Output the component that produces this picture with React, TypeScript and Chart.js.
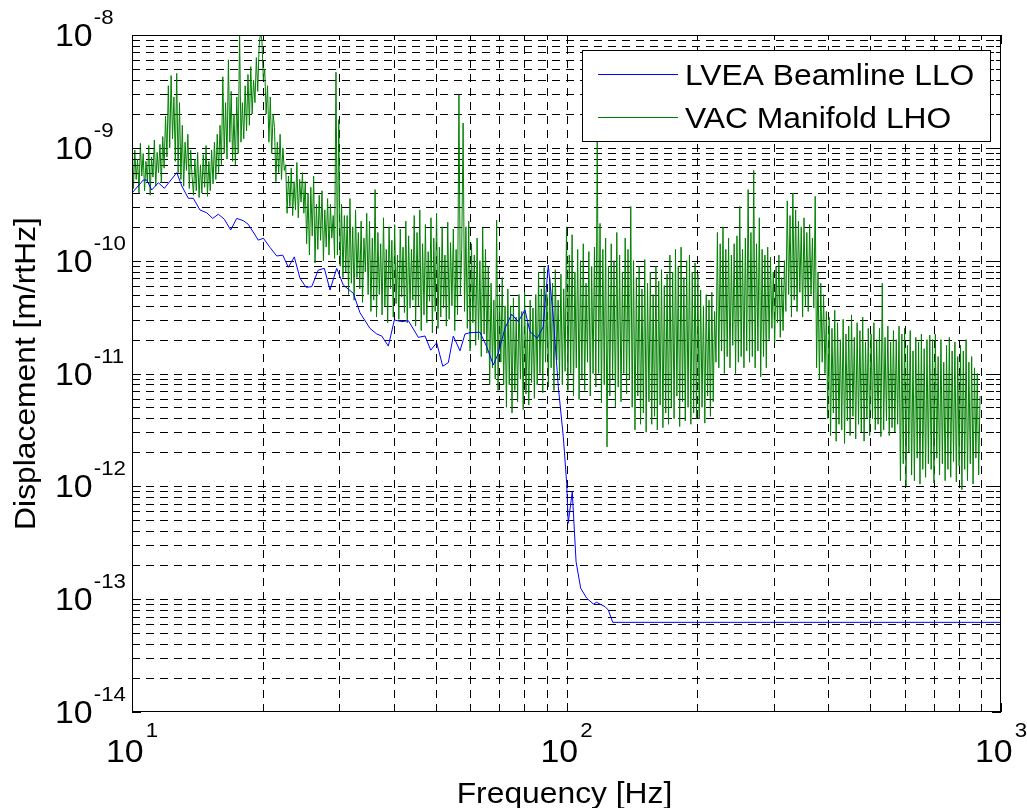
import React, { useEffect, useRef } from "react";
import { Chart, registerables } from "chart.js";

Chart.register(...registerables);

const FONT = '"Liberation Sans", Arial, Helvetica, sans-serif';
const TEXT_STRETCH = 1.06;

// LVEA Beamline LLO spectrum: frequency [Hz] and displacement [m/rtHz]
const beamlineFreq = [
  10.0, 10.62, 10.81, 11.1, 11.5, 11.87, 12.68, 13.02, 13.48, 13.84, 14.34, 14.85, 15.34, 15.8,
  16.31, 16.87, 17.42, 18.04, 18.52, 19.53, 20.06, 20.78, 21.53, 22.23, 22.9, 23.63, 24.36,
  25.15, 25.92, 26.84, 27.71, 28.56, 29.59, 30.64, 32.31, 33.47, 35.29, 36.58, 37.56, 38.9,
  40.16, 41.77, 43.25, 45.6, 47.25, 48.7, 50.27, 51.9, 53.46, 54.89, 56.87, 58.4, 59.97, 63.23,
  65.51, 67.85, 69.66, 72.17, 74.78, 77.44, 80.24, 82.39, 85.64, 88.41, 90.78, 93.22, 95.74,
  98.31, 100.1, 100.9, 103.1, 105.2, 107.8, 111.3, 115.3, 117.3, 122.7, 124.8, 127.8, 1000,
];
const beamlineDisp = [
  3.98e-10, 5.19e-10, 5.19e-10, 4.23e-10, 4.91e-10, 4.38e-10, 6.03e-10, 4.59e-10, 3.57e-10,
  3.57e-10, 2.81e-10, 2.66e-10, 2.37e-10, 2.58e-10, 2.33e-10, 1.87e-10, 2.37e-10, 2.26e-10,
  2.1e-10, 1.52e-10, 1.58e-10, 1.31e-10, 1.1e-10, 1.12e-10, 8.73e-11, 1.08e-10, 6.98e-11,
  5.81e-11, 5.88e-11, 8.26e-11, 8.55e-11, 5.5e-11, 8.55e-11, 6.08e-11, 5.14e-11, 3.46e-11,
  2.51e-11, 2.24e-11, 2.15e-11, 1.75e-11, 2.98e-11, 2.88e-11, 2.94e-11, 2.09e-11, 2.15e-11,
  1.61e-11, 1.87e-11, 1.16e-11, 1.25e-11, 2.15e-11, 1.59e-11, 2.24e-11, 2.3e-11, 2.32e-11,
  1.73e-11, 1.19e-11, 1.51e-11, 2.52e-11, 3.35e-11, 2.88e-11, 3.66e-11, 2.35e-11, 2.05e-11,
  2.6e-11, 9.16e-11, 3.19e-11, 7.64e-12, 2.75e-12, 1.06e-12, 4.7e-13, 8.95e-13, 2.15e-13,
  1.25e-13, 1.02e-13, 9.06e-14, 9.38e-14, 8.57e-14, 8.01e-14, 6.23e-14, 6.23e-14,
];

// VAC Manifold LHO spectrum: log10 of displacement [m/rtHz] on log-spaced bins
const manifoldStartHz = 10;
const manifoldEndHz = 895;
const manifoldLog10 = [
  // 10 - 13 Hz
  -8.87, -9.36, -9.02, -9.28, -9.1, -9.4, -8.96, -9.25, -9.05, -9.38, -9.12, -9.3, -8.98, -9.42,
  -9.08, -9.26, -8.93, -9.34, -9.04, -9.22, -8.97, -9.31,
  -8.9, -9.18, -8.72, -9.08, -8.45, -9.0, -8.36, -8.92, -8.55, -9.12, -8.34, -9.22,
  -8.6, -9.28, -8.8, -9.34, -8.95, -9.2, -8.88, -9.36, -9.02, -9.25,
  // 14 - 20 Hz
  -9.42, -9.1, -9.38, -9.04, -9.44, -9.15, -9.4, -9.06, -9.35, -8.98, -9.43, -9.12, -9.38, -9.02,
  -9.32, -8.95, -9.28, -8.88, -9.22, -8.8, -9.15, -8.37, -9.05, -8.6, -9.1, -8.22, -8.95, -8.5,
  -9.12, -8.7, -9.15, -8.55, -9.05, -7.98, -8.95, -8.6, -8.92, -8.45, -8.85, -8.35, -8.8, -8.28,
  -8.7, -8.4, -8.6, -8.2, -8.5, -8.1,
  // 20 - 30 Hz
  -7.97, -8.05, -8.4, -8.3, -8.7, -8.45, -8.95, -8.55, -9.05, -8.7,
  -8.82, -9.3, -8.95, -9.22, -8.88, -9.28, -9.0, -9.2,
  -9.15, -9.58, -9.25, -9.52, -9.18, -9.6, -9.3, -9.55, -9.13, -9.62, -9.28, -9.48, -9.22, -9.58,
  -9.3, -9.85, -9.4, -9.95, -9.35, -9.78, -9.25, -10.02, -9.5, -9.9, -9.42, -9.82, -9.38, -10.0,
  -9.55, -9.88, -9.45, -9.95, -9.5, -9.8, -9.6, -9.98,
  -8.33, -9.95, -8.75, -10.05, -9.5, -10.15, -9.6, -10.1,
  // 30 - 60 Hz
  -9.6, -10.3, -9.45, -10.2, -9.7, -10.35, -9.55, -10.15, -9.75, -10.25, -9.65, -10.37, -9.8,
  -10.1, -9.58, -10.3,
  -9.65, -10.45, -9.8, -10.35, -9.37, -10.5, -9.75, -10.3, -9.85, -10.48, -9.62, -10.4, -9.9,
  -10.55, -9.7, -10.25, -9.82, -10.5, -9.68, -10.38, -9.95, -10.52, -9.72, -10.32, -9.88, -10.46,
  -9.65, -10.55, -9.78, -10.42, -9.9, -10.35,
  -9.6, -10.58, -9.75, -10.4, -9.55, -10.62, -9.85, -10.48, -9.68, -10.55, -9.92, -10.36, -9.62,
  -10.64, -9.8, -10.45, -9.58, -10.6, -9.88, -10.5, -9.7, -10.42, -9.95, -10.58, -9.66, -10.52,
  -9.84, -10.4, -9.72, -10.62, -9.9, -10.48,
  -8.53, -10.3, -9.9, -8.78, -10.45, -9.7,
  // 60 - 100 Hz
  -10.6, -9.65, -10.8, -9.85, -10.55, -9.95, -10.75, -9.8, -10.7, -10.0, -10.85, -9.71, -10.65,
  -9.9, -10.82, -10.05,
  -11.1, -10.2, -10.95, -10.35, -11.05, -9.64, -11.15, -10.3, -10.9, -10.15, -11.1, -10.4,
  -11.3, -10.25, -11.1, -10.4, -11.35, -10.33, -11.15, -10.5, -11.25, -10.3, -11.05, -10.45,
  -11.32, -10.28, -11.18, -10.55, -11.28, -10.35, -11.08, -10.42, -11.22, -10.3,
  -11.1, -10.1, -11.0, -10.25, -11.17, -10.06, -10.9, -10.3, -11.12, -10.15, -10.95, -10.2,
  -11.15, -10.08, -10.88, -10.35, -11.05, -10.12, -11.1, -10.25, -10.98, -9.7,
  // 100 - 200 Hz
  -11.15, -9.95, -11.0, -9.77, -11.2, -10.1, -10.95, -9.9, -11.23, -10.0, -11.05, -9.85, -11.15,
  -10.2, -10.9, -9.92, -11.2, -10.05, -11.0, -9.88, -11.12, -8.9,
  -11.0, -9.67, -11.26, -9.9, -11.1, -9.8, -11.65, -10.05, -11.2, -9.85, -11.05, -10.0, -11.3,
  -9.75, -11.12, -9.95, -11.25, -10.1, -11.0, -9.8, -11.18, -9.9, -11.05, -9.52,
  -11.3, -10.0, -11.5, -10.15, -11.2, -10.05, -11.45, -10.25, -11.35, -9.99, -11.52, -10.2,
  -11.25, -10.1, -11.45, -10.3, -11.38, -10.05, -11.5, -10.18, -11.28, -10.08, -11.48, -10.22,
  -11.35, -10.12,
  -11.45, -9.95, -11.3, -10.1, -11.4, -9.9, -11.2, -10.05, -11.47, -9.88, -11.25, -10.15,
  -11.42, -10.0, -11.3, -9.95, -11.45, -10.1, -11.35, -10.02, -11.4, -10.12,
  // 200 - 400 Hz
  -11.4, -10.26, -11.3, -10.4, -11.44, -10.3, -11.2, -10.35, -11.38, -10.28, -11.25, -10.45,
  -10.9, -9.75, -10.95, -9.85, -10.8, -9.7, -11.0, -9.9, -10.85, -9.8, -10.95, -9.95, -10.75,
  -9.85, -11.0, -9.78, -10.9, -9.52, -10.85, -9.9, -10.95, -9.8, -10.8, -9.37, -10.9, -9.75,
  -10.85, -9.2, -10.95, -9.85, -10.8, -9.62, -11.03, -9.9, -10.85, -9.95, -10.95, -9.88,
  -10.7, -9.97, -10.6, -10.1, -10.73, -10.05, -10.55, -9.95, -10.68, -10.15, -10.62, -10.0,
  -10.45, -9.47, -10.3, -9.6, -10.5, -9.4, -10.35, -9.55, -10.45, -9.65, -10.28, -9.7, -10.5,
  -9.62, -10.4, -9.75, -10.45, -9.68, -10.3, -9.8, -10.42, -9.43,
  // 400 - 900 Hz
  -10.95, -10.1, -11.05, -10.2, -10.9, -10.3, -11.0, -10.45,
  -11.4, -10.5, -11.55, -10.6, -11.35, -10.44, -11.6, -10.55, -11.45, -10.7, -11.5, -10.52,
  -11.62, -10.65, -11.42, -10.58, -11.55, -10.48, -11.38, -10.68, -11.58, -10.55, -11.45,
  -10.62, -11.52, -10.5, -11.6, -10.72, -11.4, -10.6,
  -11.55, -10.65, -11.4, -10.55, -11.5, -10.7, -11.45, -10.6, -11.56, -10.2, -11.5, -10.68,
  -11.42, -10.58, -11.55, -10.72, -11.48, -10.62, -11.52, -10.7, -11.45, -10.58,
  -11.95, -10.65, -11.8, -10.6, -12.0, -10.75, -11.7, -10.62, -11.9, -10.8, -11.95, -10.68,
  -11.75, -10.72, -11.98, -10.65, -11.85, -10.78, -11.92, -10.7, -11.8, -10.66,
  -11.85, -10.7, -11.97, -10.65, -11.75, -10.85, -11.9, -10.7, -11.8, -10.9, -11.95, -10.75,
  -11.85, -10.68, -11.92, -10.8, -11.78, -10.72, -11.96, -10.85, -11.82, -10.75,
  -12.03, -10.8, -11.85, -10.7, -11.95, -10.9, -11.8, -10.85, -11.98, -10.95, -11.75, -11.0,
  -11.9, -11.2,
];

const seriesLabels = ["LVEA Beamline LLO", "VAC Manifold LHO"];
const seriesColors = ["#0000ff", "#008000"];
const xDecadeExponents = [1, 2, 3];
const yDecadeExponents = [-8, -9, -10, -11, -12, -13, -14];
const xTitle = "Frequency [Hz]";
const yTitle = "Displacement [m/rtHz]";

// grid positions: 1..9 x 10^e inside each decade
function decadeGrid(lo: number, hi: number) {
  const out: { v: number; major: boolean }[] = [];
  for (let e = lo; e < hi; e++) {
    for (let m = 1; m <= 9; m++) out.push({ v: m * Math.pow(10, e), major: m === 1 });
  }
  out.push({ v: Math.pow(10, hi), major: true });
  return out;
}

function drawText(
  ctx: CanvasRenderingContext2D,
  s: string,
  x: number,
  y: number,
  size: number,
  align: "left" | "right" | "center"
) {
  ctx.save();
  ctx.font = `${size}px ${FONT}`;
  ctx.textBaseline = "alphabetic";
  ctx.textAlign = "left";
  const w = ctx.measureText(s).width * TEXT_STRETCH;
  let x0 = x;
  if (align === "right") x0 = x - w;
  else if (align === "center") x0 = x - w / 2;
  ctx.translate(x0, y);
  ctx.scale(TEXT_STRETCH, 1);
  ctx.fillStyle = "#000";
  ctx.fillText(s, 0, 0);
  ctx.restore();
  return w;
}

function textWidth(ctx: CanvasRenderingContext2D, s: string, size: number) {
  ctx.save();
  ctx.font = `${size}px ${FONT}`;
  const w = ctx.measureText(s).width * TEXT_STRETCH;
  ctx.restore();
  return w;
}

const xGrid = decadeGrid(1, 3);
const yGrid = decadeGrid(-14, -8);

const axesPlugin = {
  id: "matlabAxes",
  beforeDatasetsDraw(chart: any) {
    const { ctx, chartArea: a, scales } = chart;
    ctx.save();
    ctx.strokeStyle = "#000";
    ctx.lineWidth = 1;
    ctx.setLineDash([8, 6]);
    for (const g of xGrid) {
      const p = Math.round(scales.x.getPixelForValue(g.v));
      if (p <= a.left + 1 || p >= a.right - 1) continue;
      ctx.beginPath();
      ctx.moveTo(p + 0.5, a.bottom);
      ctx.lineTo(p + 0.5, a.top);
      ctx.stroke();
    }
    for (const g of yGrid) {
      const p = Math.round(scales.y.getPixelForValue(g.v));
      if (p <= a.top + 1 || p >= a.bottom - 1) continue;
      ctx.beginPath();
      ctx.moveTo(a.left, p + 0.5);
      ctx.lineTo(a.right, p + 0.5);
      ctx.stroke();
    }
    ctx.restore();
  },
  afterDatasetsDraw(chart: any) {
    const { ctx, chartArea: a, scales } = chart;
    ctx.save();
    ctx.strokeStyle = "#000";
    ctx.lineWidth = 1;
    ctx.setLineDash([]);

    // inward tick marks on all four sides
    for (const g of xGrid) {
      const p = Math.round(scales.x.getPixelForValue(g.v)) + 0.5;
      const len = g.major ? 9 : 5;
      ctx.beginPath();
      ctx.moveTo(p, a.bottom);
      ctx.lineTo(p, a.bottom - len);
      ctx.moveTo(p, a.top);
      ctx.lineTo(p, a.top + len);
      ctx.stroke();
    }
    for (const g of yGrid) {
      const p = Math.round(scales.y.getPixelForValue(g.v)) + 0.5;
      const len = g.major ? 9 : 5;
      ctx.beginPath();
      ctx.moveTo(a.left, p);
      ctx.lineTo(a.left + len, p);
      ctx.moveTo(a.right, p);
      ctx.lineTo(a.right - len, p);
      ctx.stroke();
    }

    // axes box
    ctx.strokeRect(
      Math.round(a.left) + 0.5,
      Math.round(a.top) + 0.5,
      Math.round(a.right - a.left) - 1,
      Math.round(a.bottom - a.top) - 1
    );

    // x tick labels 10^n
    for (const e of xDecadeExponents) {
      const px = scales.x.getPixelForValue(Math.pow(10, e));
      const sup = String(e);
      const w1 = textWidth(ctx, "10", 32);
      const w2 = textWidth(ctx, sup, 21);
      const start = px - (w1 + w2 + 2) / 2;
      drawText(ctx, "10", start, 762, 32, "left");
      drawText(ctx, sup, start + w1 + 2, 737, 21, "left");
    }

    // y tick labels 10^n
    for (const e of yDecadeExponents) {
      const py = scales.y.getPixelForValue(Math.pow(10, e));
      const w1 = drawText(ctx, "10", 55, py + 11, 32, "left");
      drawText(ctx, String(e), 55 + w1 + 1, py - 11, 21, "left");
    }

    // axis titles
    drawText(ctx, xTitle, (a.left + a.right) / 2 - 2, 803, 30, "center");
    ctx.save();
    ctx.translate(35, (a.top + a.bottom) / 2);
    ctx.rotate(-Math.PI / 2);
    drawText(ctx, yTitle, 0, 0, 30, "center");
    ctx.restore();

    // legend box
    const lx = 582.5;
    const ly = 50.5;
    ctx.fillStyle = "#fff";
    ctx.fillRect(lx, ly, 408, 91);
    ctx.strokeStyle = "#000";
    ctx.strokeRect(lx, ly, 408, 91);
    const rows = [74.5, 117.5];
    seriesLabels.forEach((label, i) => {
      ctx.strokeStyle = seriesColors[i];
      ctx.beginPath();
      ctx.moveTo(598, rows[i]);
      ctx.lineTo(678, rows[i]);
      ctx.stroke();
      drawText(ctx, label, 685, rows[i] + 10.5, 30, "left");
    });
    ctx.restore();
  },
};

export default function App() {
  const canvasRef = useRef<HTMLCanvasElement | null>(null);

  useEffect(() => {
    const canvas = canvasRef.current;
    if (!canvas) return;

    const beamlinePoints = beamlineFreq.map((f, i) => ({ x: f, y: beamlineDisp[i] }));
    const n = manifoldLog10.length;
    const l0 = Math.log10(manifoldStartHz);
    const l1 = Math.log10(manifoldEndHz);
    const manifoldPoints = manifoldLog10.map((lv, i) => ({
      x: Math.pow(10, l0 + (i * (l1 - l0)) / (n - 1)),
      y: Math.pow(10, lv),
    }));

    const chart = new Chart(canvas, {
      type: "line",
      data: {
        datasets: [
          {
            label: seriesLabels[0],
            data: beamlinePoints,
            borderColor: seriesColors[0],
            borderWidth: 1,
            pointRadius: 0,
            tension: 0,
            fill: false,
          },
          {
            label: seriesLabels[1],
            data: manifoldPoints,
            borderColor: seriesColors[1],
            borderWidth: 1,
            pointRadius: 0,
            tension: 0,
            fill: false,
          },
        ],
      },
      options: {
        responsive: false,
        animation: false,
        devicePixelRatio: 1,
        parsing: false,
        normalized: true,
        layout: { padding: { left: 132, right: 26, top: 35, bottom: 96 } },
        scales: {
          x: { type: "logarithmic", min: 10, max: 1000, display: false },
          y: { type: "logarithmic", min: 1e-14, max: 1e-8, display: false },
        },
        plugins: {
          legend: { display: false },
          tooltip: { enabled: false },
        },
        events: [],
      },
      plugins: [axesPlugin],
    });

    return () => chart.destroy();
  }, []);

  return (
    <div
      style={{
        position: "fixed",
        left: 0,
        top: 0,
        width: 1027,
        height: 808,
        background: "#fff",
      }}
    >
      <canvas ref={canvasRef} width={1027} height={808} style={{ display: "block" }} />
    </div>
  );
}
